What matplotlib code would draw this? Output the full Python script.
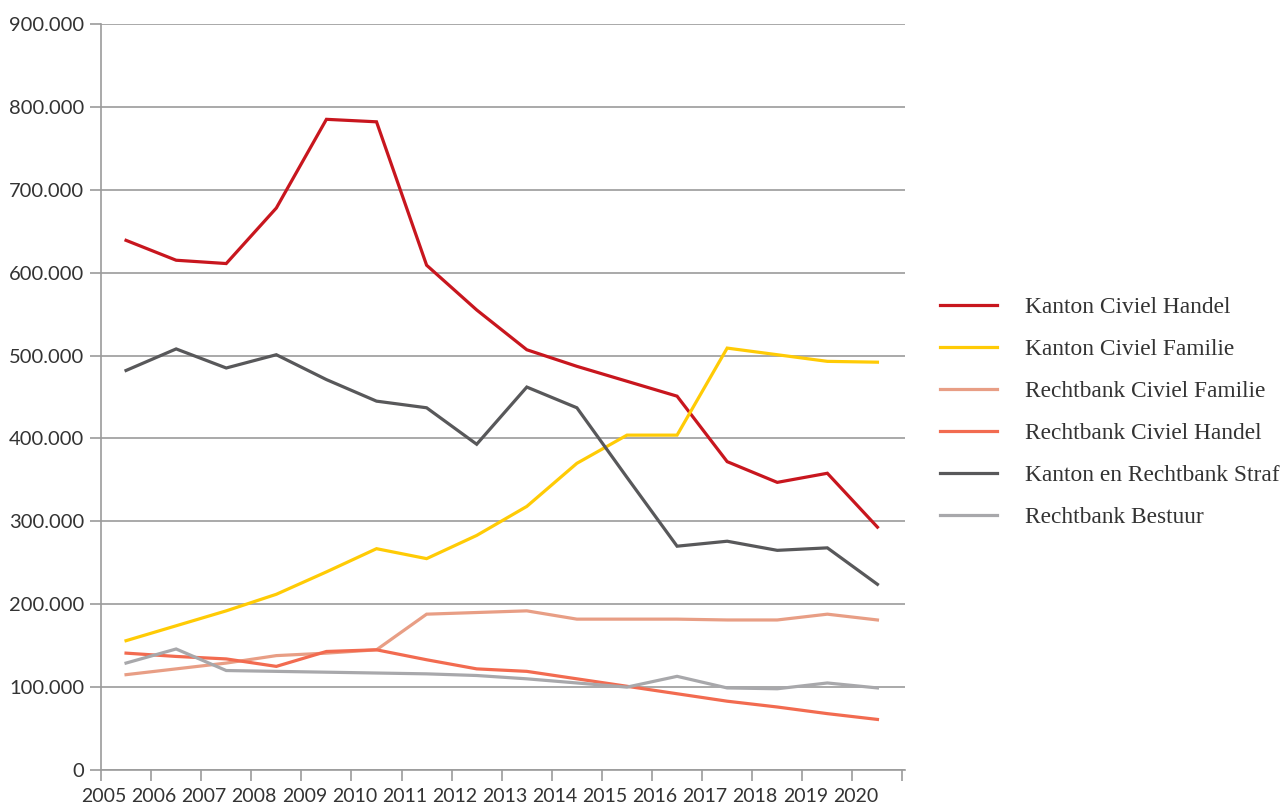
import matplotlib
matplotlib.use("Agg")
import matplotlib.pyplot as plt
import matplotlib.transforms as mtransforms
import numpy as np

years = [str(y) for y in range(2005, 2021)]

kanton_civiel_handel = [639, 615, 611, 678, 785, 782, 609, 555, 507, 487, 469, 451, 372, 347, 358, 293]
kanton_civiel_familie = [156, 174, 192, 212, 239, 267, 255, 283, 318, 370, 404, 404, 509, 501, 493, 492]
rechtbank_civiel_familie = [115, 122, 129, 138, 141, 145, 188, 190, 192, 182, 182, 182, 181, 181, 188, 181]
rechtbank_civiel_handel = [141, 137, 134, 125, 143, 145, 133, 122, 119, 110, 101, 92, 83, 76, 68, 61]
kanton_rechtbank_straf = [482, 508, 485, 501, 471, 445, 437, 393, 462, 437, 353, 270, 276, 265, 268, 224]
rechtbank_bestuur = [129, 146, 120, 119, 118, 117, 116, 114, 110, 105, 100, 113, 99, 98, 105, 99]

series = [
    ("Kanton Civiel Handel", kanton_civiel_handel, "#C8161E"),
    ("Kanton Civiel Familie", kanton_civiel_familie, "#FFCB05"),
    ("Rechtbank Civiel Familie", rechtbank_civiel_familie, "#E89E85"),
    ("Rechtbank Civiel Handel", rechtbank_civiel_handel, "#F26B50"),
    ("Kanton en Rechtbank Straf", kanton_rechtbank_straf, "#58585A"),
    ("Rechtbank Bestuur", rechtbank_bestuur, "#A8A8AB"),
]

fig = plt.figure(figsize=(12.87, 8.07), dpi=100)
ax = fig.add_axes([101/1287, 1-770/807, (905-101)/1287, (770-24)/807])

x = np.arange(len(years)) + 0.5
handles = []
for name, vals, col in series:
    h, = ax.plot(x, np.array(vals) * 1000, color=col, lw=2.3, label=name, zorder=3,
                 solid_joinstyle="miter")
    handles.append(h)

ax.set_xlim(0, 16.05)
ax.set_ylim(0, 900000)
yt = np.arange(0, 900001, 100000)
ax.set_yticks(yt)
ax.set_yticklabels(["0"] + [f"{int(v/1000)}.000" for v in yt[1:]])
ax.set_xticks(np.arange(0, 17))
ax.set_xticklabels(years + [""])

ax.grid(axis="y", color="#9B9B9B", lw=1.2, zorder=1)
ax.grid(axis="x", visible=False)
for s in ["top", "right"]:
    ax.spines[s].set_visible(False)
for s in ["left", "bottom"]:
    ax.spines[s].set_color("#9B9B9B")
    ax.spines[s].set_linewidth(1.2)
ax.tick_params(axis="y", length=8, width=1.2, color="#9B9B9B", pad=4,
               labelsize=14.5, labelcolor="#333333")
ax.tick_params(axis="x", length=8, width=1.2, color="#9B9B9B", pad=5,
               labelsize=14, labelcolor="#333333")
offset = mtransforms.ScaledTranslation(3/100, 0, fig.dpi_scale_trans)
for lab in ax.get_xticklabels():
    lab.set_fontfamily("Lato")
    lab.set_transform(lab.get_transform() + offset)
for lab in ax.get_yticklabels():
    lab.set_fontfamily("Lato")

leg = fig.legend(handles=handles, loc="upper left",
                 bbox_to_anchor=(940/1287, 1-297/807), frameon=False,
                 prop={"family": "Liberation Serif", "size": 16.8},
                 handlelength=2.45, handletextpad=1.2, labelspacing=0.88,
                 borderaxespad=0, borderpad=0)
for t in leg.get_texts():
    t.set_color("#333333")

fig.savefig("out.png", dpi=100)
